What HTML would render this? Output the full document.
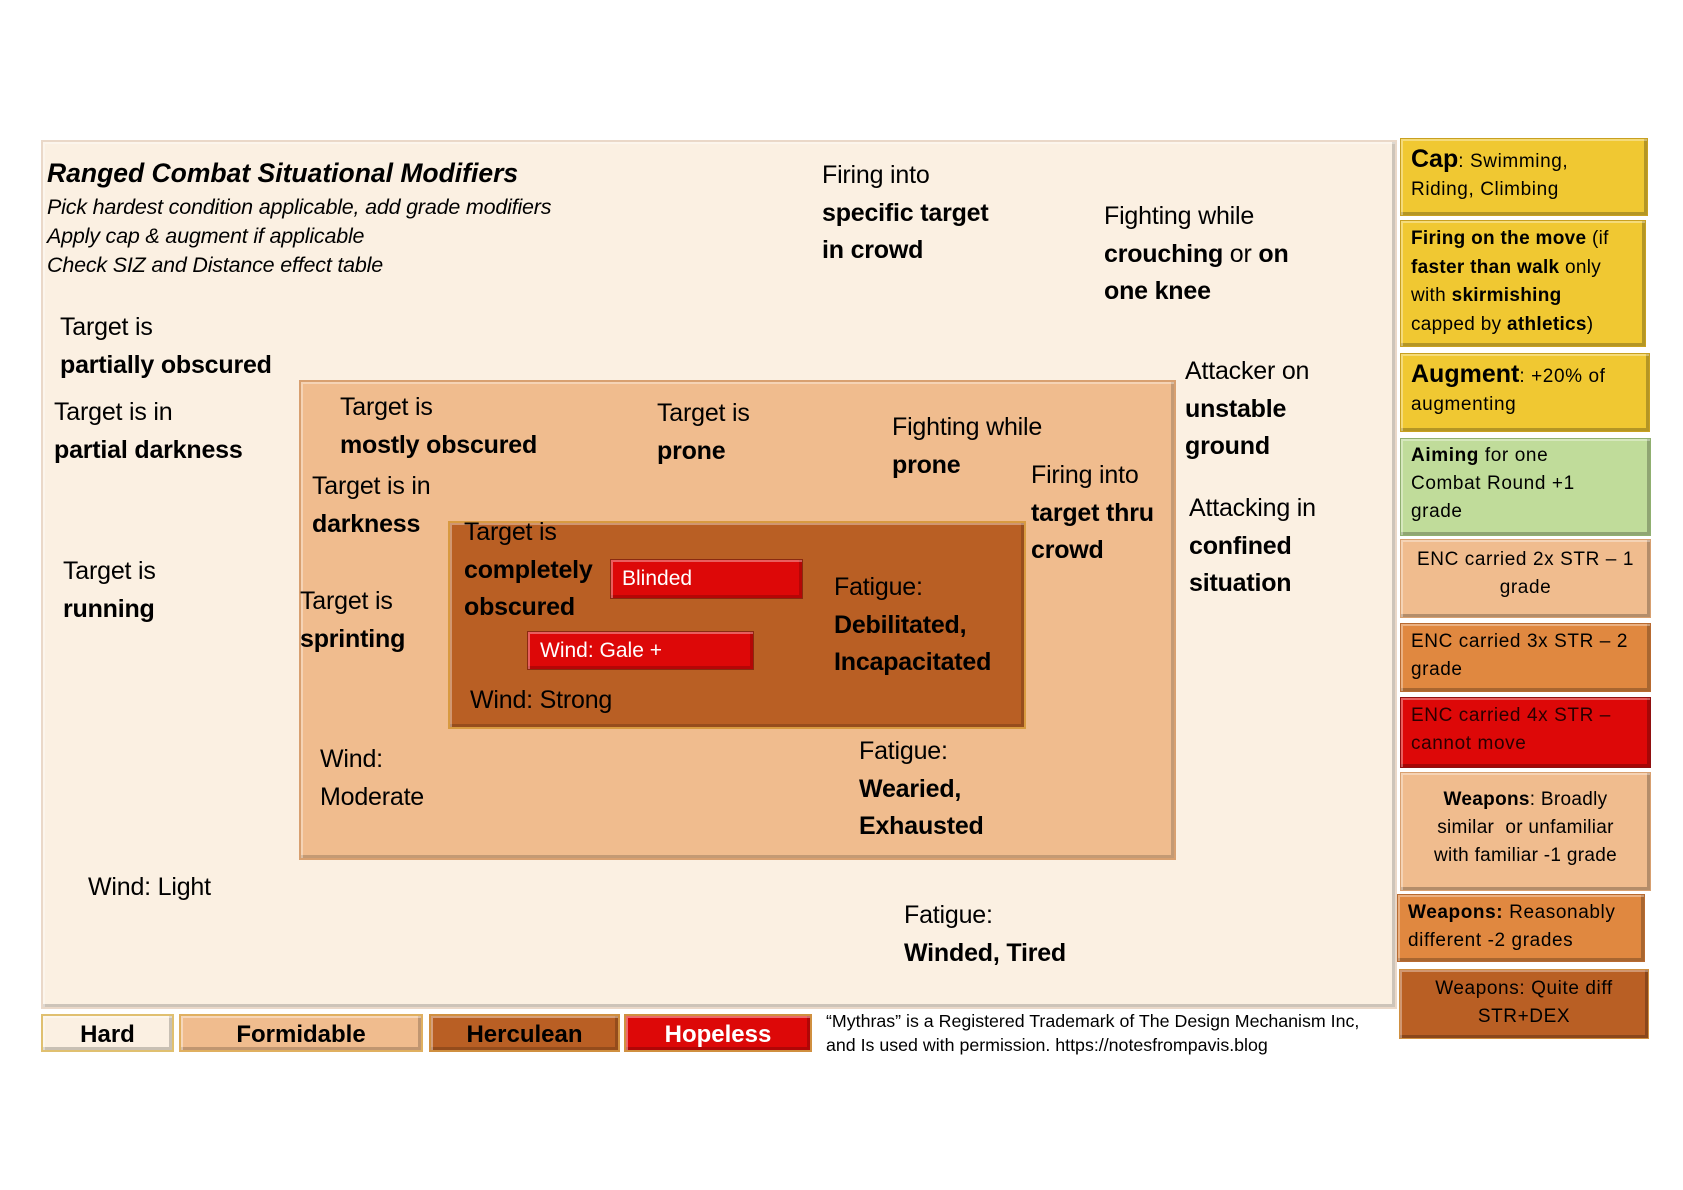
<!DOCTYPE html>
<html><head><meta charset="utf-8"><style>
body{margin:0;width:1683px;height:1190px;background:#fff;position:relative;overflow:hidden;font-family:"Liberation Sans",sans-serif;color:#000}
.a{position:absolute}
.box{position:absolute;box-sizing:border-box;box-shadow:inset 2px 2px 0 rgba(255,255,255,.35),inset -3px -3px 0 rgba(0,0,0,.18)}
.t{position:absolute;font-size:25px;line-height:37.5px;white-space:nowrap;letter-spacing:-0.2px}
.t b{font-weight:bold}
.r{position:absolute;box-sizing:border-box;font-size:19px;letter-spacing:0.6px;line-height:28px;padding:4px 10px;box-shadow:inset 2px 2px 0 rgba(255,255,255,.35),inset -3px -3px 0 rgba(0,0,0,.25)}
.lg{position:absolute;top:1014px;height:38px;box-sizing:border-box;font-size:24px;font-weight:bold;text-align:center;line-height:38px;box-shadow:inset 2px 2px 0 rgba(255,255,255,.4),inset -3px -3px 0 rgba(0,0,0,.2)}
</style></head><body>
<div class="box" style="left:41px;top:140px;width:1356px;height:869px;background:#fbf0e2;border:2px solid #ead8c8"></div>
<div class="box" style="left:299px;top:380px;width:877px;height:480px;background:#f0bc8e;border:2px solid #d8a070"></div>
<div class="box" style="left:448px;top:521px;width:578px;height:208px;background:#b95f24;border:2px solid #d89a40"></div>
<div class="box" style="left:610px;top:559px;width:193px;height:40px;background:#dd0808;border:1px solid #8a2a10;color:#fff;font-size:21px;line-height:38px;padding-left:11px">Blinded</div>
<div class="box" style="left:527px;top:631px;width:227px;height:39px;background:#dd0808;border:1px solid #8a2a10;color:#fff;font-size:21px;line-height:37px;padding-left:12px">Wind: Gale +</div>

<div class="a" style="left:47px;top:158px;font-size:26.5px;font-weight:bold;font-style:italic">Ranged Combat Situational Modifiers</div>
<div class="a" style="left:47px;top:193px;font-size:21.5px;font-style:italic;line-height:29px;letter-spacing:-0.2px">Pick hardest condition applicable, add grade modifiers<br>Apply cap &amp; augment if applicable<br>Check SIZ and Distance effect table</div>

<div class="t" style="left:822px;top:157px">Firing into<br><b>specific target<br>in crowd</b></div>
<div class="t" style="left:1104px;top:198px">Fighting while<br><b>crouching</b> or <b>on<br>one knee</b></div>
<div class="t" style="left:60px;top:309px">Target is<br><b>partially obscured</b></div>
<div class="t" style="left:54px;top:394px">Target is in<br><b>partial darkness</b></div>
<div class="t" style="left:63px;top:553px">Target is<br><b>running</b></div>
<div class="t" style="left:340px;top:389px">Target is<br><b>mostly obscured</b></div>
<div class="t" style="left:657px;top:395px">Target is<br><b>prone</b></div>
<div class="t" style="left:892px;top:409px">Fighting while<br><b>prone</b></div>
<div class="t" style="left:1185px;top:353px">Attacker on<br><b>unstable<br>ground</b></div>
<div class="t" style="left:1031px;top:457px">Firing into<br><b>target thru<br>crowd</b></div>
<div class="t" style="left:1189px;top:490px">Attacking in<br><b>confined<br>situation</b></div>
<div class="t" style="left:312px;top:468px">Target is in<br><b>darkness</b></div>
<div class="t" style="left:464px;top:514px">Target is<br><b>completely<br>obscured</b></div>
<div class="t" style="left:300px;top:583px">Target is<br><b>sprinting</b></div>
<div class="t" style="left:834px;top:569px">Fatigue:<br><b>Debilitated,<br>Incapacitated</b></div>
<div class="t" style="left:470px;top:682px">Wind: Strong</div>
<div class="t" style="left:320px;top:741px">Wind:<br>Moderate</div>
<div class="t" style="left:859px;top:733px">Fatigue:<br><b>Wearied,<br>Exhausted</b></div>
<div class="t" style="left:88px;top:869px">Wind: Light</div>
<div class="t" style="left:904px;top:897px">Fatigue:<br><b>Winded, Tired</b></div>

<div class="lg" style="left:41px;width:133px;background:#fbf0e2;border:2px solid #e0c070">Hard</div>
<div class="lg" style="left:179px;width:244px;background:#f0bc8e;border:2px solid #e0b060">Formidable</div>
<div class="lg" style="left:429px;width:191px;background:#b95f24;border:2px solid #d09040">Herculean</div>
<div class="lg" style="left:624px;width:188px;background:#dd0808;border:2px solid #d09040;color:#fff">Hopeless</div>
<div class="a" style="left:826px;top:1009px;font-size:17.8px;line-height:24px;white-space:nowrap">“Mythras” is a Registered Trademark of The Design Mechanism Inc,<br>and Is used with permission. https://notesfrompavis.blog</div>

<div class="r" style="left:1400px;top:138px;width:248px;height:78px;background:#f0c832;border:1px solid #c8a020;padding-top:6px"><b style="font-size:25px;letter-spacing:0">Cap</b>: Swimming, Riding, Climbing</div>
<div class="r" style="left:1400px;top:220px;width:246px;height:127px;background:#f0c832;border:1px solid #c8a020;line-height:28.5px;padding:4px 18px 0 10px;letter-spacing:0.3px"><b>Firing on the move</b> (if <b>faster than walk</b> only with <b>skirmishing</b> capped by <b>athletics</b>)</div>
<div class="r" style="left:1400px;top:353px;width:250px;height:79px;background:#f0c832;border:1px solid #c8a020;padding-top:6px"><b style="font-size:25px;letter-spacing:0">Augment</b>: +20% of augmenting</div>
<div class="r" style="left:1400px;top:438px;width:251px;height:98px;background:#c0dc9a;border:1px solid #90b070;line-height:28px;padding:3px 50px 0 10px"><b>Aiming</b> for one Combat Round +1 grade</div>
<div class="r" style="left:1400px;top:539px;width:251px;height:79px;background:#f0bc8e;border:1px solid #d8a070;text-align:center;padding-top:6px">ENC carried 2x STR – 1 grade</div>
<div class="r" style="left:1400px;top:623px;width:251px;height:69px;background:#e08840;border:1px solid #b86a30;padding-top:4px">ENC carried 3x STR – 2 grade</div>
<div class="r" style="left:1400px;top:697px;width:251px;height:71px;background:#dd0808;border:1px solid #901010;padding-top:4px;color:#2a0000">ENC carried 4x STR – cannot move</div>
<div class="r" style="left:1400px;top:772px;width:251px;height:119px;background:#f0bc8e;border:1px solid #d8a070;text-align:center;line-height:28px;padding:13px 18px 0;letter-spacing:0.3px"><b>Weapons</b>: Broadly similar&nbsp; or unfamiliar with familiar -1 grade</div>
<div class="r" style="left:1397px;top:894px;width:248px;height:68px;background:#e08840;border:1px solid #b86a30;padding-top:4px"><b>Weapons:</b> Reasonably different -2 grades</div>
<div class="r" style="left:1399px;top:969px;width:250px;height:70px;background:#b95f24;border:1px solid #d09040;text-align:center;padding-top:5px">Weapons: Quite diff STR+DEX</div>
</body></html>
